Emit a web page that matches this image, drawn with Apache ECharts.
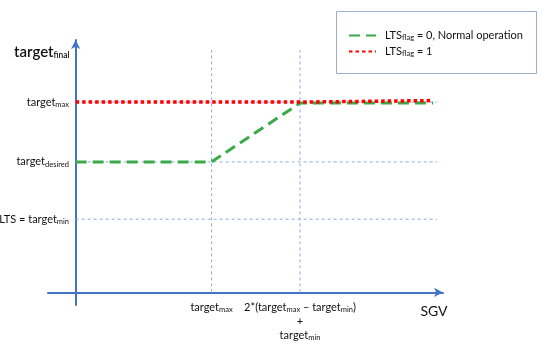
<!DOCTYPE html>
<html>
<head>
<meta charset="utf-8">
<script src="https://cdn.jsdelivr.net/npm/echarts@6/dist/echarts.min.js"></script>
<style>html,body{margin:0;padding:0;background:#fff}#c{width:550px;height:355px}</style>
</head>
<body>
<div id="c"></div>
<script>
// ---- data (abstract units) ----
const sgvBreaks   = [0, 34.4, 56.8, 90.5];      // SGV breakpoints of the normal-operation curve
const normalY     = [51.7, 51.7, 75.0, 75.0];   // target_final, LTS_flag = 0
const ltsX        = [0, 56.8, 56.8, 90.5];
const ltsY        = [75.4, 75.4, 76.0, 76.0];   // target_final, LTS_flag = 1
const yTickValues = [29.0, 51.7, 75.4];         // target_min, target_desired, target_max
const yTickLabels = ['LTS = target{s|min}', 'target{s|desired}', 'target{s|max}'];
const xTickValues = [34.4, 56.8];               // target_max, 2*(target_max - target_min) + target_min
const xTickLabels = ['target{s|max}', '2*(target{s|max} – target{s|min})\n+\ntarget{s|min}'];
const gridXEnd = 91.5;
const gridYEnd = 96.0;
const seriesNames = ['LTS{s|flag} = 0, Normal operation', 'LTS{s|flag} = 1'];

const FONT = 'Lato';
const rich = {
  s: { fontSize: 7.5, fontFamily: FONT, color: '#111', verticalAlign: 'bottom', padding: [5, 0, 0, 0] }
};
function nearestLabel(values, labels, v) {
  let best = 0;
  for (let i = 1; i < values.length; i++) if (Math.abs(values[i] - v) < Math.abs(values[best] - v)) best = i;
  return labels[best];
}

const guideStyle = { color: '#8FAADC', width: 1, type: [3, 3] };
const guides = [];
yTickValues.forEach((v, i) => guides.push({
  type: 'line', silent: true, symbol: 'none', z: 1, lineStyle: guideStyle,
  data: [[0, v], [gridXEnd, v]]
}));
xTickValues.forEach((v, i) => guides.push({
  type: 'line', silent: true, symbol: 'none', z: 1, lineStyle: guideStyle,
  data: [[v, 0], [v, gridYEnd]]
}));

const chart = echarts.init(document.getElementById('c'), null, { renderer: 'canvas' });
chart.setOption({
  animation: false,
  backgroundColor: '#fff',
  textStyle: { fontFamily: FONT },
  grid: { left: 48, right: 107, top: 40, bottom: 50, outerBoundsMode: 'none', containLabel: false },
  graphic: [{
    type: 'rect', left: 336, top: 11, z: 0,
    shape: { width: 200, height: 62 },
    style: { fill: '#fff', stroke: '#9DAFCF', lineWidth: 1 }
  }],
  legend: {
    orient: 'vertical', left: 348, top: 30, itemGap: 4,
    itemWidth: 27, itemHeight: 4, padding: 0,
    data: seriesNames,
    itemStyle: { opacity: 0 },
    textStyle: { fontFamily: FONT, fontSize: 11, color: '#111', padding: [0, 0, 0, 4], rich: rich }
  },
  xAxis: {
    type: 'value', min: -7, max: 93,
    axisLine: { onZero: true, symbol: ['none', 'arrow'], symbolSize: [7, 9],
      lineStyle: { color: '#4472C4', width: 2 } },
    axisTick: { show: false },
    splitLine: { show: false },
    axisLabel: {
      customValues: xTickValues, margin: -5, fontFamily: FONT, fontSize: 11, color: '#111',
      lineHeight: 14, hideOverlap: false, interval: 0,
      formatter: v => nearestLabel(xTickValues, xTickLabels, v),
      rich: rich
    },
    name: 'SGV', nameLocation: 'end', nameGap: -9,
    nameTextStyle: { fontFamily: FONT, fontSize: 14, color: '#111', align: 'center', verticalAlign: 'top', padding: [12, 0, 0, 0] }
  },
  yAxis: {
    type: 'value', min: -5, max: 100,
    axisLine: { onZero: true, symbol: ['none', 'arrow'], symbolSize: [7, 9],
      lineStyle: { color: '#4472C4', width: 2 } },
    axisTick: { show: false },
    splitLine: { show: false },
    axisLabel: {
      customValues: yTickValues, margin: -21, fontFamily: FONT, fontSize: 11, color: '#111',
      hideOverlap: false, interval: 0,
      formatter: v => nearestLabel(yTickValues, yTickLabels, v),
      rich: rich
    },
    name: 'target{f|final}', nameLocation: 'end', nameGap: -12,
    nameTextStyle: { fontFamily: FONT, fontSize: 15, fontWeight: 600, color: '#111', align: 'right', verticalAlign: 'middle',
      padding: [0, 6, 0, 0],
      rich: { f: { fontSize: 8.5, fontFamily: FONT, color: '#111', verticalAlign: 'bottom', padding: [6, 0, 0, 0] } } }
  },
  series: guides.concat([
    {
      name: seriesNames[0], type: 'line', symbol: 'none', z: 3,
      lineStyle: { color: '#3AAA48', width: 3, type: [11, 6], cap: 'butt' },
      itemStyle: { color: '#3AAA48' },
      data: sgvBreaks.map((x, i) => [x, normalY[i]])
    },
    {
      name: seriesNames[1], type: 'line', symbol: 'none', z: 4,
      lineStyle: { color: '#FF0000', width: 3.5, type: [3.5, 3], cap: 'butt' },
      itemStyle: { color: '#FF0000' },
      data: ltsX.map((x, i) => [x, ltsY[i]])
    }
  ])
});
</script>
</body>
</html>
